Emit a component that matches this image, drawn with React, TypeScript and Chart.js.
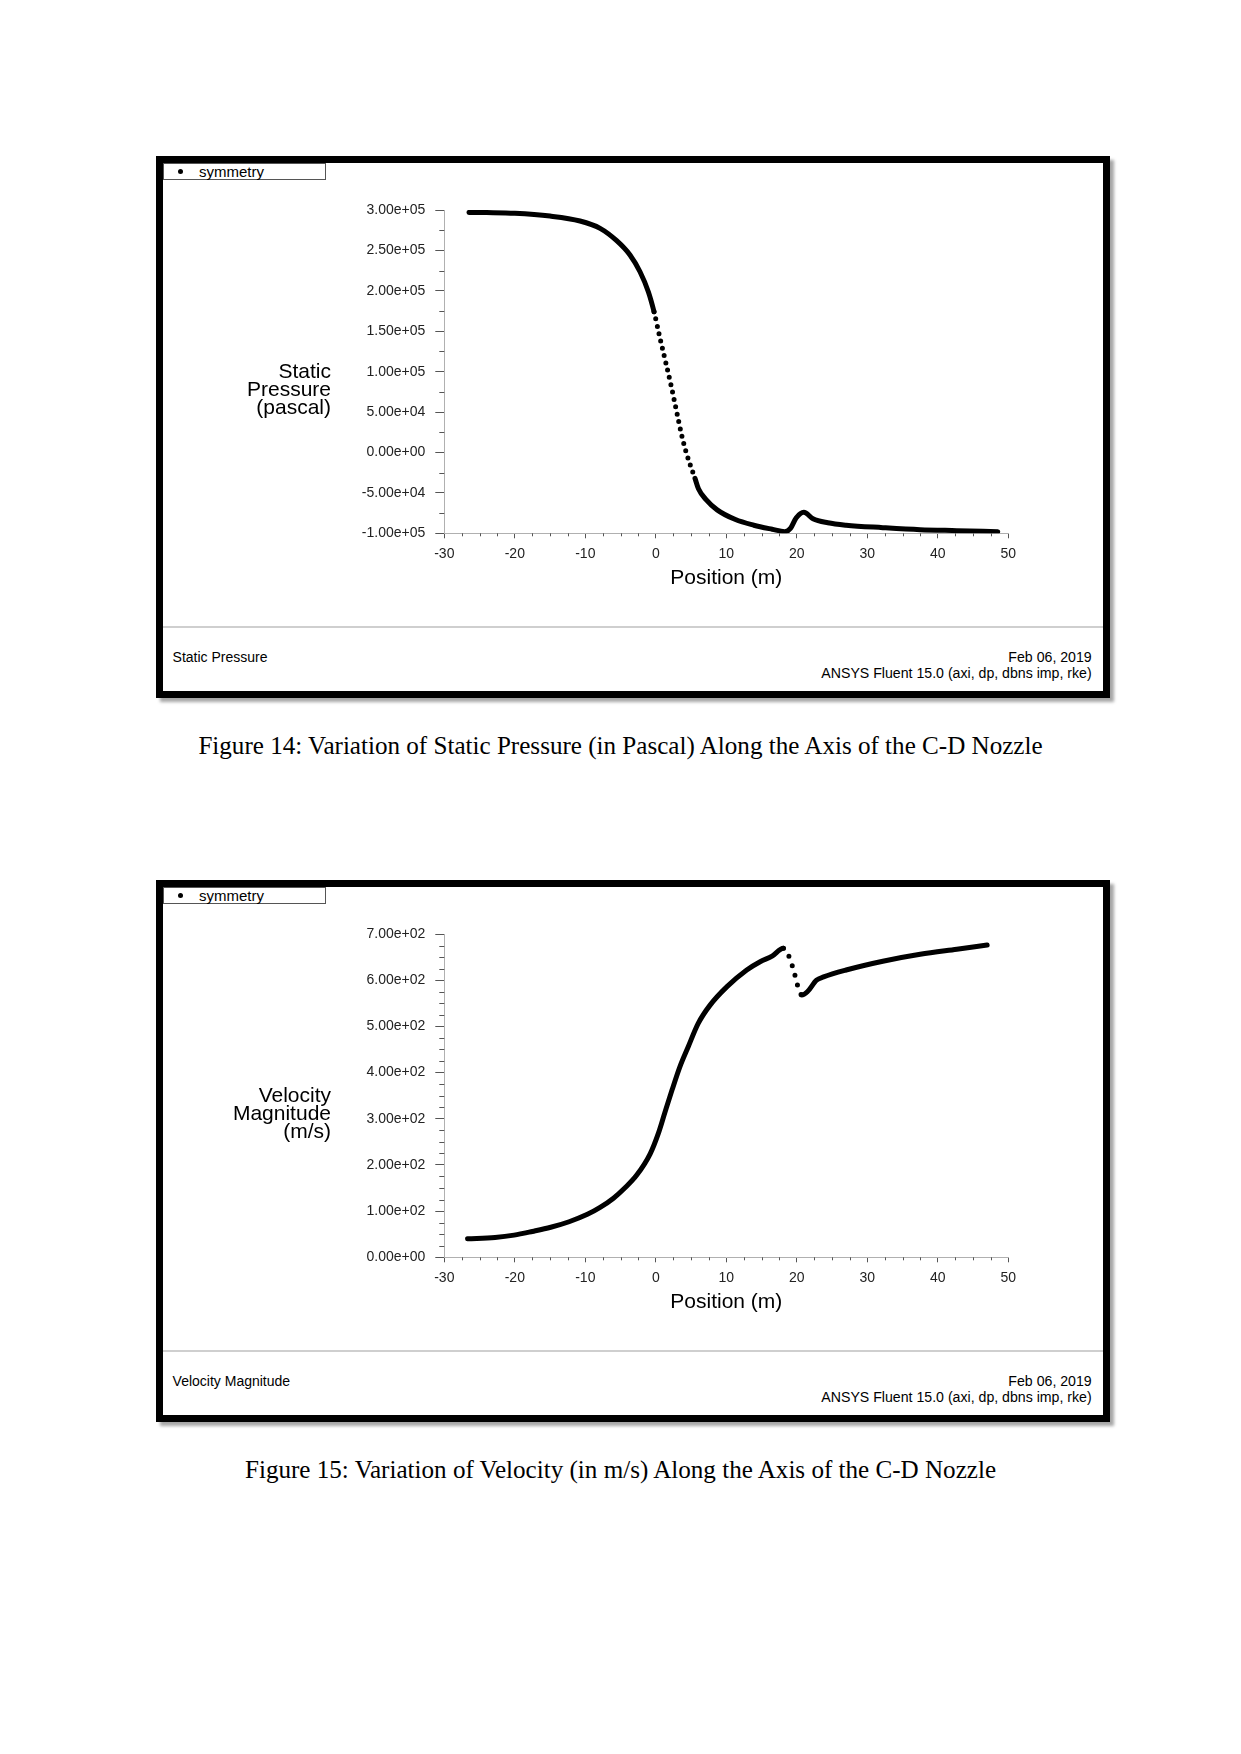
import React, { useEffect, useRef } from "react";
import { Chart, registerables } from "chart.js";

Chart.register(...registerables);

// ---------------- Data ----------------
const positionRange = [-30, 50];
const positionStep = 10;
const positionMinorStep = 2.5;

// Figure 14 – static pressure along the axis (Pa)
const pressureX = [
  -26.5, -24, -20, -15, -10.75, -7.9, -5.55, -3.66, -2.24, -1.06, -0.25, 0.6, 1.45,
  2.26, 2.96, 3.67, 4.38, 5.56, 6.05, 7.1, 8.7, 11.3, 13.9, 16.5, 18.3, 19.1, 19.9,
  21.0, 22.3, 24.4, 27.0, 32.2, 37.5, 42.7, 48.5,
];
const pressureY = [
  297000, 296800, 296000, 292500, 286400, 277300, 262000, 244300, 223600, 198900,
  174100, 141200, 110000, 79300, 50400, 21500, -2000, -32100, -45000, -58000,
  -71000, -83000, -90000, -95000, -98000, -94000, -81000, -74000, -82000, -87000,
  -90000, -93000, -95500, -96700, -98000,
];
const pressureRange = [-100000, 300000];
const pressureStep = 50000;
const pressureMinorStep = 25000;
const pressureDotted = [-0.5, 5.6];

// Figure 15 – velocity magnitude along the axis (m/s)
const velocityX = [
  -26.7, -22.8, -20.1, -17.5, -14.9, -12.3, -9.7, -7.9, -6.0, -4.4, -2.7, -0.8, 0.4,
  1.3, 2.3, 3.4, 4.6, 6.0, 7.7, 10.1, 12.9, 14.8, 16.5, 18.1, 18.9, 19.4, 19.8, 20.1,
  20.7, 21.5, 22.8, 23.8, 27.0, 32.2, 37.5, 42.7, 47.0,
];
const velocityY = [
  40, 43, 48, 56, 65, 77, 93, 108, 128, 150, 178, 224, 270, 314, 362, 412, 456, 506,
  546, 586, 622, 640, 652, 669, 651, 629, 607, 589, 568, 575, 600, 607, 622, 641,
  656, 667, 676,
];
const velocityRange = [0, 700];
const velocityStep = 100;
const velocityMinorStep = 25;
const velocityDotted = [18.0, 20.8];

// ---------------- Helpers ----------------
function fmtExp(v: number): string {
  const [m, e] = v.toExponential(2).split("e");
  const sign = e[0] === "-" ? "-" : "+";
  const d = e.replace(/[+-]/, "").padStart(2, "0");
  return `${m}e${sign}${d}`;
}

const SANS = "'Liberation Sans', Arial, sans-serif";
const SERIF = "'Liberation Serif', 'Times New Roman', serif";

const minorTickPlugin = {
  id: "minorTicks",
  afterDraw(chart: any, _args: any, opts: any) {
    const { ctx } = chart;
    const xs = chart.scales.x;
    const ys = chart.scales.y;
    ctx.save();
    ctx.strokeStyle = opts.color;
    ctx.lineWidth = 1;
    ctx.beginPath();
    const isMajor = (v: number, major: number) =>
      Math.abs(v / major - Math.round(v / major)) < 1e-6;
    for (let v = xs.min; v <= xs.max + 1e-9; v += opts.xStep) {
      if (isMajor(v, opts.xMajor)) continue;
      const px = Math.round(xs.getPixelForValue(v)) + 0.5;
      ctx.moveTo(px, xs.top);
      ctx.lineTo(px, xs.top + opts.xLen);
    }
    for (let v = ys.min; v <= ys.max + 1e-9; v += opts.yStep) {
      if (isMajor(v, opts.yMajor)) continue;
      const py = Math.round(ys.getPixelForValue(v)) + 0.5;
      ctx.moveTo(ys.right, py);
      ctx.lineTo(ys.right - opts.yLen, py);
    }
    ctx.stroke();
    ctx.restore();
  },
};

type PlotProps = {
  xs: number[];
  ys: number[];
  yRange: number[];
  yStep: number;
  yMinor: number;
  dotted: number[];
  dotGap: number;
};

const CANVAS_W = 940;
const CANVAS_H = 464;

function Plot({ xs, ys, yRange, yStep, yMinor, dotted, dotGap }: PlotProps) {
  const ref = useRef<HTMLCanvasElement | null>(null);
  useEffect(() => {
    if (!ref.current) return;
    const data = xs.map((x, i) => ({ x, y: ys[i] }));
    const inDots = (c: any) =>
      c.p0.parsed.x >= dotted[0] && c.p1.parsed.x <= dotted[1];
    const chart = new Chart(ref.current, {
      type: "line",
      data: {
        datasets: [
          {
            label: "symmetry",
            data,
            borderColor: "#000",
            backgroundColor: "#000",
            borderWidth: 5,
            borderCapStyle: "round",
            borderJoinStyle: "round",
            pointRadius: 0,
            cubicInterpolationMode: "monotone",
            fill: false,
            segment: {
              borderDash: (c: any) => (inDots(c) ? [0, dotGap] : undefined),
              borderWidth: (c: any) => (inDots(c) ? 5 : undefined),
            },
          } as any,
        ],
      },
      options: {
        animation: false,
        responsive: false,
        devicePixelRatio: 1,
        events: [],
        layout: { padding: { left: 0, right: 94.7, top: 47, bottom: 33.7 } },
        plugins: {
          legend: { display: false },
          tooltip: { enabled: false },
          minorTicks: {
            color: "#555",
            xStep: positionMinorStep,
            xMajor: positionStep,
            xLen: 3,
            yStep: yMinor,
            yMajor: yStep,
            yLen: 5,
          },
        } as any,
        scales: {
          x: {
            type: "linear",
            min: positionRange[0],
            max: positionRange[1],
            afterFit: (s: any) => {
              s.height = 60;
            },
            ticks: {
              stepSize: positionStep,
              color: "#222",
              font: { family: SANS, size: 14 },
              padding: 7,
              maxRotation: 0,
              autoSkip: false,
              callback: (v: any) => String(v),
            },
            grid: {
              drawOnChartArea: false,
              drawTicks: true,
              tickLength: 5,
              tickColor: "#555",
            },
            border: { display: true, color: "#b0b0b0", width: 1 },
            title: {
              display: true,
              text: "Position (m)",
              color: "#000",
              font: { family: SANS, size: 21, lineHeight: 1.2 },
              padding: { top: 0, bottom: 2 },
            },
          },
          y: {
            type: "linear",
            min: yRange[0],
            max: yRange[1],
            afterFit: (s: any) => {
              s.width = 281.3;
            },
            ticks: {
              stepSize: yStep,
              color: "#222",
              font: { family: SANS, size: 14 },
              padding: 10,
              autoSkip: false,
              callback: (v: any) => fmtExp(Number(v)),
            },
            grid: {
              drawOnChartArea: false,
              drawTicks: true,
              tickLength: 9,
              tickColor: "#555",
            },
            border: { display: true, color: "#b0b0b0", width: 1 },
          },
        },
      } as any,
      plugins: [minorTickPlugin as any],
    });
    return () => chart.destroy();
  }, [xs, ys, yRange, yStep, yMinor, dotted, dotGap]);
  return (
    <canvas
      ref={ref}
      width={CANVAS_W}
      height={CANVAS_H}
      style={{ position: "absolute", left: 0, top: 0, width: CANVAS_W, height: CANVAS_H }}
    />
  );
}

type FigureProps = PlotProps & {
  top: number;
  yTitle: string[];
  footerLeft: string;
  caption: string;
};

function Figure({ top, yTitle, footerLeft, caption, ...plot }: FigureProps) {
  return (
    <>
      <div
        style={{
          position: "absolute",
          left: 156,
          top,
          width: 954,
          height: 542,
          border: "7px solid #000",
          boxSizing: "border-box",
          background: "#fff",
          boxShadow: "4px 4px 3px rgba(0,0,0,0.35)",
        }}
      >
        <Plot {...plot} />
        {/* legend */}
        <div
          style={{
            position: "absolute",
            left: 0,
            top: 0,
            width: 163,
            height: 17,
            border: "1px solid #555",
            boxSizing: "border-box",
            background: "#fff",
          }}
        >
          <div
            style={{
              position: "absolute",
              left: 14,
              top: 5,
              width: 5,
              height: 5,
              borderRadius: "50%",
              background: "#000",
            }}
          />
          <div
            style={{
              position: "absolute",
              left: 35,
              top: -1.5,
              font: `15px ${SANS}`,
              lineHeight: "17px",
              color: "#000",
              whiteSpace: "nowrap",
            }}
          >
            symmetry
          </div>
        </div>
        {/* y axis title */}
        <div
          style={{
            position: "absolute",
            left: 0,
            top: 198.8,
            width: 168,
            textAlign: "right",
            font: `21px ${SANS}`,
            lineHeight: "18.35px",
            color: "#000",
          }}
        >
          {yTitle.map((t) => (
            <div key={t}>{t}</div>
          ))}
        </div>
        {/* footer separator */}
        <div
          style={{
            position: "absolute",
            left: 0,
            top: 463,
            width: 940,
            height: 2,
            background: "#cfcfcf",
          }}
        />
        <div
          style={{
            position: "absolute",
            left: 9.6,
            top: 487,
            font: `14px ${SANS}`,
            lineHeight: "15.6px",
            color: "#000",
            whiteSpace: "nowrap",
          }}
        >
          {footerLeft}
        </div>
        <div
          style={{
            position: "absolute",
            right: 11.3,
            top: 487,
            font: `14.15px ${SANS}`,
            lineHeight: "15.6px",
            color: "#000",
            textAlign: "right",
            whiteSpace: "nowrap",
          }}
        >
          <div>Feb 06, 2019</div>
          <div>ANSYS Fluent 15.0 (axi, dp, dbns imp, rke)</div>
        </div>
      </div>
      <div
        style={{
          position: "absolute",
          left: 0,
          top: top + 574.6,
          width: 1241,
          textAlign: "center",
          font: `25.1px ${SERIF}`,
          lineHeight: "30px",
          color: "#000",
          whiteSpace: "nowrap",
        }}
      >
        {caption}
      </div>
    </>
  );
}

export default function App() {
  return (
    <div
      style={{
        position: "absolute",
        left: 0,
        top: 0,
        width: 1241,
        height: 1754,
        background: "#fff",
        overflow: "hidden",
      }}
    >
      <Figure
        top={156}
        xs={pressureX}
        ys={pressureY}
        yRange={pressureRange}
        yStep={pressureStep}
        yMinor={pressureMinorStep}
        dotted={pressureDotted}
        dotGap={7.5}
        yTitle={["Static", "Pressure", "(pascal)"]}
        footerLeft="Static Pressure"
        caption="Figure 14: Variation of Static Pressure (in Pascal) Along the Axis of the C-D Nozzle"
      />
      <Figure
        top={880}
        xs={velocityX}
        ys={velocityY}
        yRange={velocityRange}
        yStep={velocityStep}
        yMinor={velocityMinorStep}
        dotted={velocityDotted}
        dotGap={10}
        yTitle={["Velocity", "Magnitude", "(m/s)"]}
        footerLeft="Velocity Magnitude"
        caption="Figure 15: Variation of Velocity (in m/s) Along the Axis of the C-D Nozzle"
      />
    </div>
  );
}
